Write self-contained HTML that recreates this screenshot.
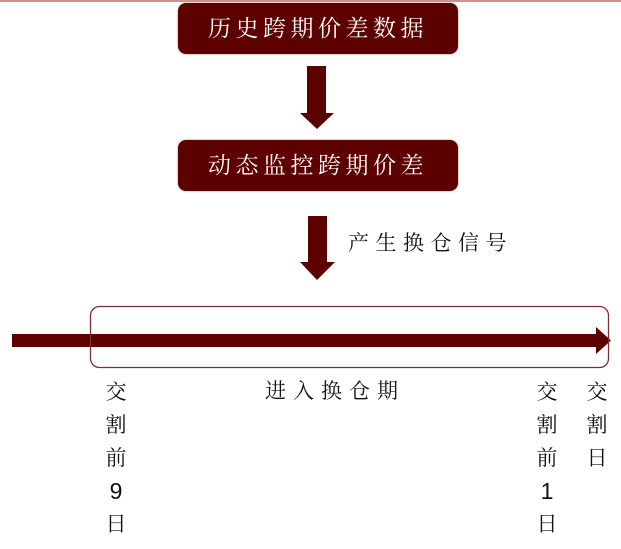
<!DOCTYPE html>
<html><head><meta charset="utf-8"><style>
body{margin:0;width:621px;height:549px;background:#fff;position:relative;overflow:hidden;font-family:"Liberation Serif","Noto Serif CJK SC","Noto Sans CJK SC",serif;}
.box{position:absolute;left:178px;width:280px;height:51px;background:#5c0000;border-radius:8px;color:#fff;font-size:23px;line-height:51px;text-align:center;letter-spacing:4.5px;box-shadow:0 0 2px #a88;}
.t{position:absolute;font-size:21px;color:#111;line-height:22px;}
.col{position:absolute;width:26px;text-align:center;font-size:21px;color:#111;}
.col div{height:33px;line-height:22px;}
</style></head><body>
<div style="position:absolute;left:0;top:0;width:621px;height:2px;background:#d09090"></div>
<div class="box" style="top:3px">历史跨期价差数据</div>
<div class="box" style="top:140px">动态监控跨期价差</div>
<svg width="621" height="549" style="position:absolute;left:0;top:0">
<g fill="#5c0000">
<rect x="307" y="66" width="19" height="48"/><polygon points="300,113 334,113 317,129"/>
<rect x="308" y="216" width="19" height="46"/><polygon points="300,262 335,262 317,280"/>
<rect x="12" y="334" width="586" height="13"/><polygon points="596,327 611,340.5 596,354"/>
</g>
<rect x="90.5" y="306.5" width="518" height="61" rx="9" fill="none" stroke="#7a3030" stroke-width="1.3"/>
</svg>
<div class="t" style="left:348px;top:232px;letter-spacing:6.5px">产生换仓信号</div>
<div class="t" style="left:265px;top:380px;letter-spacing:7px">进入换仓期</div>
<div class="col" style="left:103px;top:381px"><div>交</div><div>割</div><div>前</div><div style="font-family:'Liberation Sans',sans-serif;font-size:23px">9</div><div>日</div></div>
<div class="col" style="left:534px;top:381px"><div>交</div><div>割</div><div>前</div><div style="font-family:'Liberation Sans',sans-serif;font-size:23px">1</div><div>日</div></div>
<div class="col" style="left:584px;top:381px"><div>交</div><div>割</div><div>日</div></div>
</body></html>
